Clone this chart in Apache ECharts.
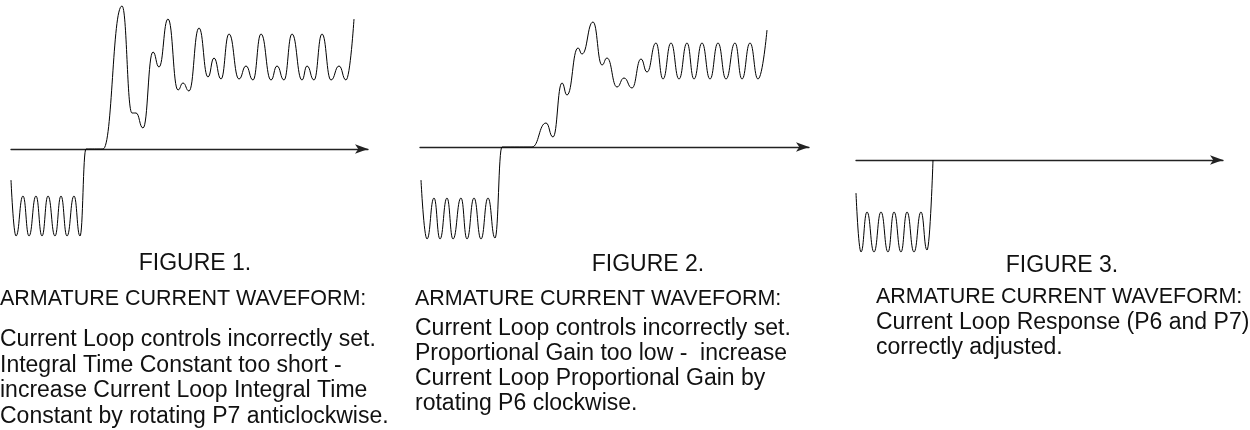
<!DOCTYPE html>
<html>
<head>
<meta charset="utf-8">
<script src="https://cdn.jsdelivr.net/npm/echarts@6/dist/echarts.min.js"></script>
<style>
html, body { margin: 0; padding: 0; background: #fff; }
#charts { width: 1250px; height: 430px; }
</style>
</head>
<body>
<div id="charts"></div>
<script>
// waveform points [time, current] (0 = time axis)
var wave1 = [[0,-31],[5,-87],[12,-47],[18,-87],[25,-47],[31,-87],[37,-47],[44,-87],[50,-47],[56,-87],[63,-47],[69,-87],
    [75,0],[92,0],[111,143],[121,36],[125,36],[132,21],[142,97],[148,82],[157,130],[167,59],[172,66],[178,58],
    [188,121],[197,72],[203,91],[210,70],[218,115],[228,70],[235,83],[242,69],[250,115],[260,69],[266,83],[273,69],
    [281,115],[291,69],[296,83],[303,69],[311,115],[320,69],[328,83],[335,69],[343,130]];
var wave2 = [[1,-33],[7,-92],[14,-51],[20,-92],[27,-51],[33,-92],[41,-51],[47,-92],[54,-51],[61,-92],[68,-51],[75,-91],
    [82,0],[112,0],[126,24],[133,10],[142,64],[147,52],[158,99],[162,93],[173,125],[182,82],[187,89],[197,60],
    [204,69],[212,59],[221,88],[227,75],[236,104],[243,68],[251,104],[259,68],[267,104],[274,68],[282,104],[290,68],
    [298,104],[306,68],[315,104],[322,68],[330,104],[338,68],[347,117]];
var wave3 = [[0,-33],[5,-92],[11,-52],[18,-92],[25,-52],[32,-92],[38,-52],[45,-92],[51,-52],[58,-92],[65,-52],[71,-90],[77,0]];

var figTitles = ['FIGURE 1.', 'FIGURE 2.', 'FIGURE 3.'];
var heading = 'ARMATURE CURRENT WAVEFORM:';
var notes1 = ['Current Loop controls incorrectly set.', 'Integral Time Constant too short -',
    'increase Current Loop Integral Time', 'Constant by rotating P7 anticlockwise.'];
var notes2 = ['Current Loop controls incorrectly set.', 'Proportional Gain too low -  increase',
    'Current Loop Proportional Gain by', 'rotating P6 clockwise.'];
var notes3 = ['Current Loop Response (P6 and P7)', 'correctly adjusted.'];

var FONT = '"Liberation Sans", Arial, sans-serif';

function makeX(idx, max){
    return {
        type: 'value', gridIndex: idx, min: 0, max: max,
        axisLine: { show: true, onZero: true, symbol: ['none', 'arrow'], symbolSize: [7, 13],
            lineStyle: { color: '#222', width: 1.3 } },
        axisTick: { show: false }, axisLabel: { show: false }, splitLine: { show: false }
    };
}

function makeY(idx, min, max){
    return { type: 'value', gridIndex: idx, min: min, max: max, show: false };
}

function makeWave(idx, data){
    return {
        type: 'line', xAxisIndex: idx, yAxisIndex: idx, data: data,
        showSymbol: false, smooth: 0.5, smoothMonotone: 'x', silent: true,
        lineStyle: { color: '#000', width: 1 }, z: 3
    };
}

function textEl(x, y, str, size, align, lineH){
    return {
        type: 'text', x: x, y: y, silent: true,
        style: { text: str, font: size + 'px ' + FONT, fill: '#111', align: align,
            verticalAlign: 'top', lineHeight: lineH || size }
    };
}

var charts = echarts.init(document.getElementById('charts'));
var option = {
    animation: false,
    backgroundColor: '#fff',
    grid: [
        { left: 11, top: 0, width: 357, height: 250, outerBoundsMode: 'none' },
        { left: 420, top: 0, width: 389, height: 250, outerBoundsMode: 'none' },
        { left: 856, top: 0, width: 367, height: 260, outerBoundsMode: 'none' }
    ],
    xAxis: [makeX(0, 357), makeX(1, 389), makeX(2, 367)],
    yAxis: [makeY(0, -101, 149), makeY(1, -103, 147), makeY(2, -100, 160)],
    series: [makeWave(0, wave1), makeWave(1, wave2), makeWave(2, wave3)],
    graphic: [
        textEl(195, 252, figTitles[0], 23, 'center'),
        textEl(0, 288, heading, 21.5, 'left'),
        textEl(0, 327, notes1.join('\n'), 23, 'left', 25.5),

        textEl(648, 253, figTitles[1], 23, 'center'),
        textEl(415, 288, heading, 21.5, 'left'),
        textEl(415, 316, notes2.join('\n'), 23, 'left', 25),

        textEl(1062, 254, figTitles[2], 23, 'center'),
        textEl(876, 286, heading, 21.5, 'left'),
        textEl(876, 310, notes3.join('\n'), 23, 'left', 25)
    ]
};
charts.setOption(option);
</script>
</body>
</html>
